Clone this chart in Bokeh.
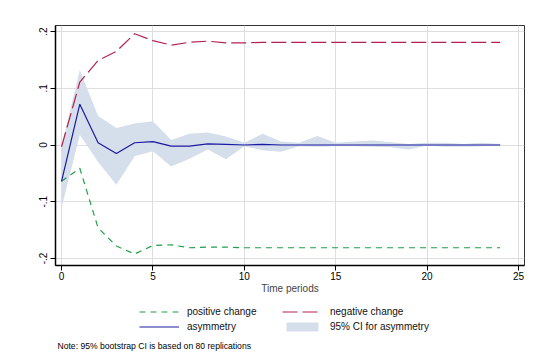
from bokeh.plotting import figure
from bokeh.layouts import column
from bokeh.models import ColumnDataSource, Legend, LegendItem, Label, FixedTicker, Range1d
from bokeh.embed import file_html
from bokeh.resources import INLINE

periods = list(range(25))
asymmetry = [-0.064, 0.072, 0.004, -0.015, 0.004, 0.006, -0.002, -0.002, 0.002, 0.001,
             0.0, 0.001, 0.0, 0.0, 0.0, 0.0, 0.0, 0.0, 0.0, 0.0, 0.0, 0.0, 0.0, 0.0, 0.0]
negative_change = [-0.003, 0.111, 0.149, 0.165, 0.196, 0.184, 0.176, 0.181, 0.183, 0.180,
                   0.180, 0.181, 0.181, 0.181, 0.181, 0.181, 0.181, 0.181, 0.181, 0.181,
                   0.181, 0.181, 0.181, 0.181, 0.181]
positive_change = [-0.064, -0.041, -0.146, -0.178, -0.192, -0.177, -0.176, -0.181, -0.180, -0.180,
                   -0.181, -0.181, -0.181, -0.181, -0.181, -0.181, -0.181, -0.181, -0.181, -0.181,
                   -0.181, -0.181, -0.181, -0.181, -0.181]
ci_low = [-0.111, 0.018, -0.030, -0.070, -0.020, -0.011, -0.038, -0.024, -0.008, -0.025,
          -0.002, -0.009, -0.012, -0.002, -0.003, -0.002, -0.002, -0.003, -0.004, -0.008,
          -0.001, -0.003, -0.003, -0.002, -0.001]
ci_high = [-0.003, 0.132, 0.051, 0.030, 0.038, 0.042, 0.009, 0.020, 0.022, 0.015,
           0.004, 0.020, 0.006, 0.004, 0.016, 0.004, 0.006, 0.008, 0.005, 0.002,
           0.004, 0.004, 0.002, 0.004, 0.002]

x_ticks = [0, 5, 10, 15, 20, 25]
y_ticks = [-0.2, -0.1, 0, 0.1, 0.2]
y_tick_labels = ["-.2", "-.1", "0", ".1", ".2"]
x_title = "Time periods"
legend_labels = ["positive change", "negative change", "asymmetry", "95% CI for asymmetry"]
note = "Note: 95% bootstrap CI is based on 80 replications"

FONT = "Liberation Sans"
GREEN, RED, BLUE, BAND = "#1f9e47", "#b3204f", "#1a1aa0", "#d5deeb"

src = ColumnDataSource(dict(t=periods, asym=asymmetry, neg=negative_change,
                            pos=positive_change, lo=ci_low, hi=ci_high))


def draw(fig):
    b = fig.varea(x="t", y1="lo", y2="hi", source=src, fill_color=BAND, fill_alpha=1)
    g = fig.line(x="t", y="pos", source=src, line_color=GREEN, line_width=1.2, line_dash="6 5")
    r = fig.line(x="t", y="neg", source=src, line_color=RED, line_width=1.2, line_dash="15 5")
    a = fig.line(x="t", y="asym", source=src, line_color=BLUE, line_width=1.2)
    return g, r, a, b


p = figure(width=554, height=300, output_backend="svg", toolbar_location=None,
           x_range=Range1d(-0.33, 25.33), y_range=Range1d(-0.2123, 0.2106),
           min_border_left=55, min_border_right=30, min_border_top=25, min_border_bottom=35)
p.background_fill_color = "white"
p.border_fill_color = "white"
p.outline_line_color = "#333333"
p.outline_line_width = 1
draw(p)

p.xaxis.ticker = FixedTicker(ticks=x_ticks)
p.yaxis.ticker = FixedTicker(ticks=y_ticks)
p.yaxis.major_label_overrides = {t: l for t, l in zip(y_ticks, y_tick_labels)}
p.yaxis.major_label_orientation = "vertical"
for ax in (p.xaxis, p.yaxis):
    ax.axis_line_color = "black"
    ax.axis_line_width = 1.5
    ax.major_tick_line_color = "black"
    ax.major_tick_in = 0
    ax.major_tick_out = 5
    ax.minor_tick_line_color = None
    ax.major_label_text_font = FONT
    ax.major_label_text_font_size = "10px"
    ax.major_label_text_color = "black"
p.xaxis.major_label_standoff = 1
p.yaxis.major_label_standoff = 3
p.xaxis.axis_label = x_title
p.xaxis.axis_label_text_font = FONT
p.xaxis.axis_label_text_font_size = "10px"
p.xaxis.axis_label_text_font_style = "normal"
p.xaxis.axis_label_standoff = 0

p.xgrid.grid_line_color = "#dedede"
p.ygrid.grid_line_color = "#dedede"

# legend / note panel (same series drawn outside its visible range, only used as legend keys)
q = figure(width=554, height=64, output_backend="svg", toolbar_location=None,
           x_range=Range1d(1000, 1001), y_range=Range1d(1000, 1001),
           min_border_left=0, min_border_right=0, min_border_top=0, min_border_bottom=0)
q.axis.visible = False
q.grid.visible = False
q.outline_line_color = None
q.background_fill_color = "white"
q.border_fill_color = "white"
lp, ln, la, lb = draw(q)

legend = Legend(items=[
    LegendItem(label=legend_labels[0], renderers=[lp]),
    LegendItem(label=legend_labels[1], renderers=[ln]),
    LegendItem(label=legend_labels[2], renderers=[la]),
    LegendItem(label=legend_labels[3], renderers=[lb]),
], location=(84, 32), orientation="horizontal", ncols=2,
    glyph_width=40, glyph_height=11, label_height=12, label_width=92,
    label_standoff=8, spacing=3, padding=0, margin=0,
    label_text_font=FONT, label_text_font_size="10px", label_text_color="#111111",
    border_line_color=None, background_fill_alpha=0)
q.add_layout(legend)
q.add_layout(Label(x=2, y=19, x_units="screen", y_units="screen", text=note,
                   text_font=FONT, text_font_size="8.6px", text_baseline="middle",
                   text_color="black"))

open("out.html", "w").write(file_html(column(p, q, spacing=0), INLINE))
